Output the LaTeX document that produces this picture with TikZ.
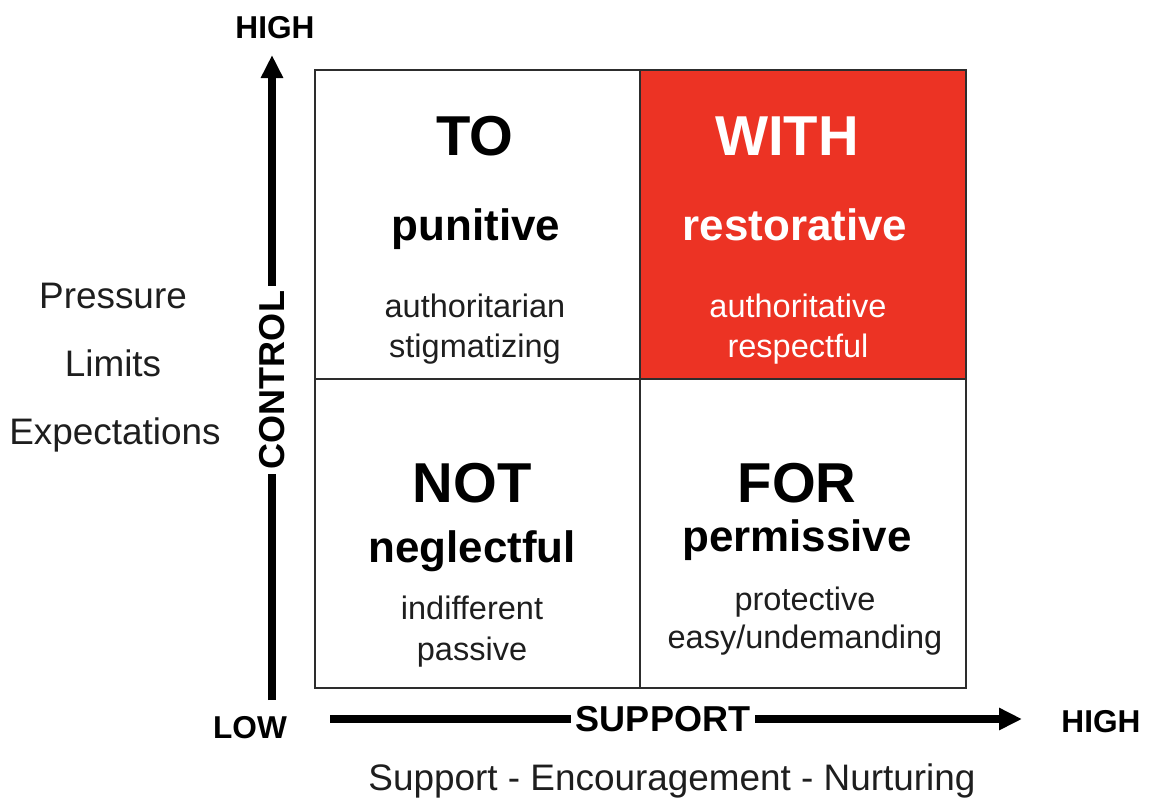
\documentclass[tikz,border=0pt]{standalone}
\usepackage{fontspec}
\setmainfont{Liberation Sans}
\usetikzlibrary{arrows.meta}

\definecolor{withred}{RGB}{236,51,36}
\definecolor{gridgray}{RGB}{45,45,45}
\definecolor{textgray}{RGB}{30,30,30}

\tikzset{
  bigword/.style={font=\fontsize{32}{36}\selectfont\bfseries, anchor=base, inner sep=0pt},
  midword/.style={font=\fontsize{25}{28}\selectfont\bfseries, anchor=base, inner sep=0pt},
  smallword/.style={font=\fontsize{18.5}{22}\selectfont, text=textgray, anchor=base, inner sep=0pt},
  sideword/.style={font=\fontsize{21}{24}\selectfont, text=textgray, anchor=base, inner sep=0pt},
  axisword/.style={font=\fontsize{20.5}{24}\selectfont\bfseries, fill=white, inner sep=3pt},
  levelword/.style={font=\fontsize{18}{22}\selectfont\bfseries, anchor=base, inner sep=0pt},
  axisarrow/.style={line width=4.5pt, -{Triangle[length=0.46cm,width=0.42cm]}},
}

\begin{document}
\begin{tikzpicture}[x=0.02cm, y=-0.02cm]
\useasboundingbox (0,0) rectangle (1149,799);

% the four cells
\fill[withred] (640,70) rectangle (966,379);
\draw[gridgray, line width=1pt] (315,70) rectangle (966,688);
\draw[gridgray, line width=1pt] (640,70) -- (640,688);
\draw[gridgray, line width=1pt] (315,379) -- (966,379);

% TO
\node[bigword] (to) at (475,155) {TO};
\node[midword] (punitive) at (476,240) {punitive};
\node[smallword] (authoritarian) at (475,317) {authoritarian};
\node[smallword] (stigmatizing) at (475,357) {stigmatizing};

% WITH
\node[bigword, text=white] (with) at (787,155) {WITH};
\node[midword, text=white] (restorative) at (795,240) {restorative};
\node[smallword, text=white] (authoritative) at (798,317) {authoritative};
\node[smallword, text=white] (respectful) at (798,357) {respectful};

% NOT
\node[bigword] (not) at (472,502) {NOT};
\node[midword] (neglectful) at (472,562) {neglectful};
\node[smallword] (indifferent) at (472,619) {indifferent};
\node[smallword] (passive) at (472,660) {passive};

% FOR
\node[bigword] (for) at (797,502) {FOR};
\node[midword] (permissive) at (797,551) {permissive};
\node[smallword] (protective) at (805,610) {protective};
\node[smallword] (easy) at (805,648) {easy/undemanding};

% control axis
\coordinate (ctrllow) at (272,700);
\coordinate (ctrlhigh) at (272,55);
\draw[axisarrow] (ctrllow) -- (ctrlhigh);
\node[axisword, rotate=90] (control) at (272,380) {CONTROL};
\node[levelword] (hightop) at (275,38) {HIGH};
\node[levelword] (low) at (250,738) {LOW};

% support axis
\coordinate (suplow) at (330,719);
\coordinate (suphigh) at (1022,719);
\draw[axisarrow] (suplow) -- (suphigh);
\node[axisword] (support) at (663,719) {SUPPORT};
\node[levelword] (highright) at (1101,732) {HIGH};

% side texts
\node[sideword] (pressure) at (113,308) {Pressure};
\node[sideword] (limits) at (113,376) {Limits};
\node[sideword] (expectations) at (115,444) {Expectations};
\node[sideword] (nurture) at (672,790) {Support - Encouragement - Nurturing};
\end{tikzpicture}
\end{document}
